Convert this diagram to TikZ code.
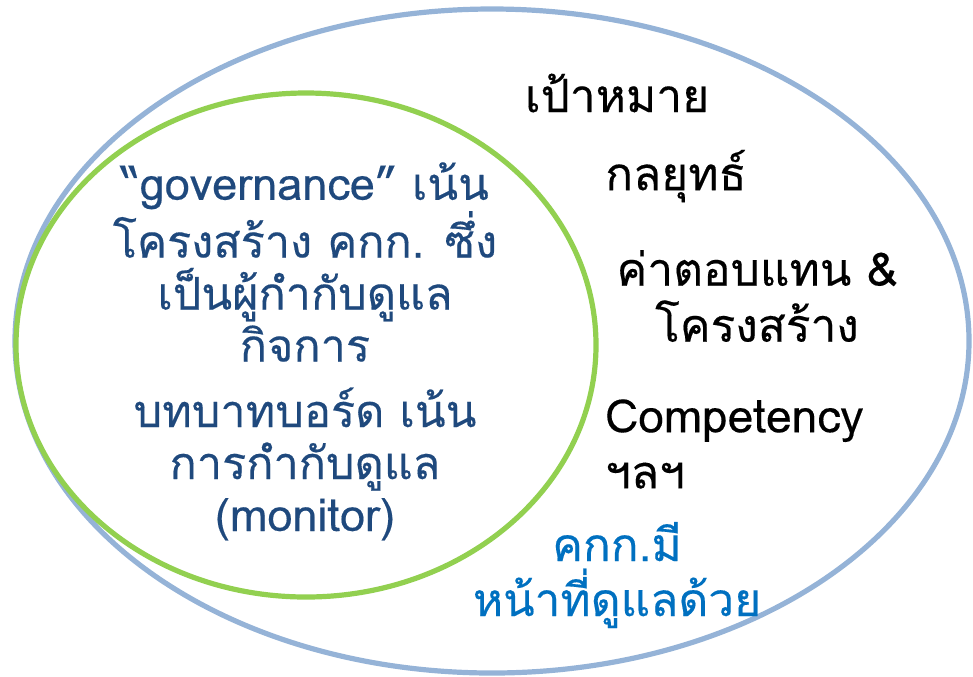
\documentclass[tikz,border=0pt]{standalone}
\usepackage{fontspec}
\setmainfont[Script=Thai, FakeBold=0.3]{Loma}
\usetikzlibrary{positioning}

\definecolor{outerblue}{HTML}{95B3D7}
\definecolor{innergreen}{HTML}{92D050}
\definecolor{darkblue}{HTML}{1F497D}
\definecolor{brightblue}{HTML}{0070C0}

\tikzset{
  inner txt/.style={align=center, text=darkblue, font=\fontsize{22.5}{26}\selectfont},
  side txt/.style={align=center, text=black, font=\fontsize{23}{28}\selectfont},
  duty txt/.style={align=center, text=brightblue, font=\fontsize{23}{27.5}\selectfont}
}

\begin{document}
\begin{tikzpicture}[x=0.5pt, y=-0.5pt]
\useasboundingbox (0,0) rectangle (973,676);

% the two sets
\draw[outerblue, line width=2.6pt] (492,341) ellipse [x radius=477, y radius=332];
\draw[innergreen, line width=2.6pt] (306,345) ellipse [x radius=290, y radius=252];

% inside the green one
\node[inner txt] (gov) at (305,262) {“governance” เน้น\\โครงสร้าง คกก. ซึ่ง\\เป็นผู้กำกับดูแล\\กิจการ};
\node[inner txt] (board) at (305,464) {บทบาทบอร์ด เน้น\\การกำกับดูแล\\(monitor)};

% outside it
\node[side txt] (goal) at (617,93) {เป้าหมาย};
\node[side txt] (strat) at (676,176) {กลยุทธ์};
\node[side txt] (pay) at (757,296) {ค่าตอบแทน \&\\โครงสร้าง};
\node[side txt, align=left, anchor=west] (comp) at (598,444) {Competency\\ฯลฯ};
\node[duty txt] (duty) at (617,575) {คกก.มี\\หน้าที่ดูแลด้วย};
\end{tikzpicture}
\end{document}
